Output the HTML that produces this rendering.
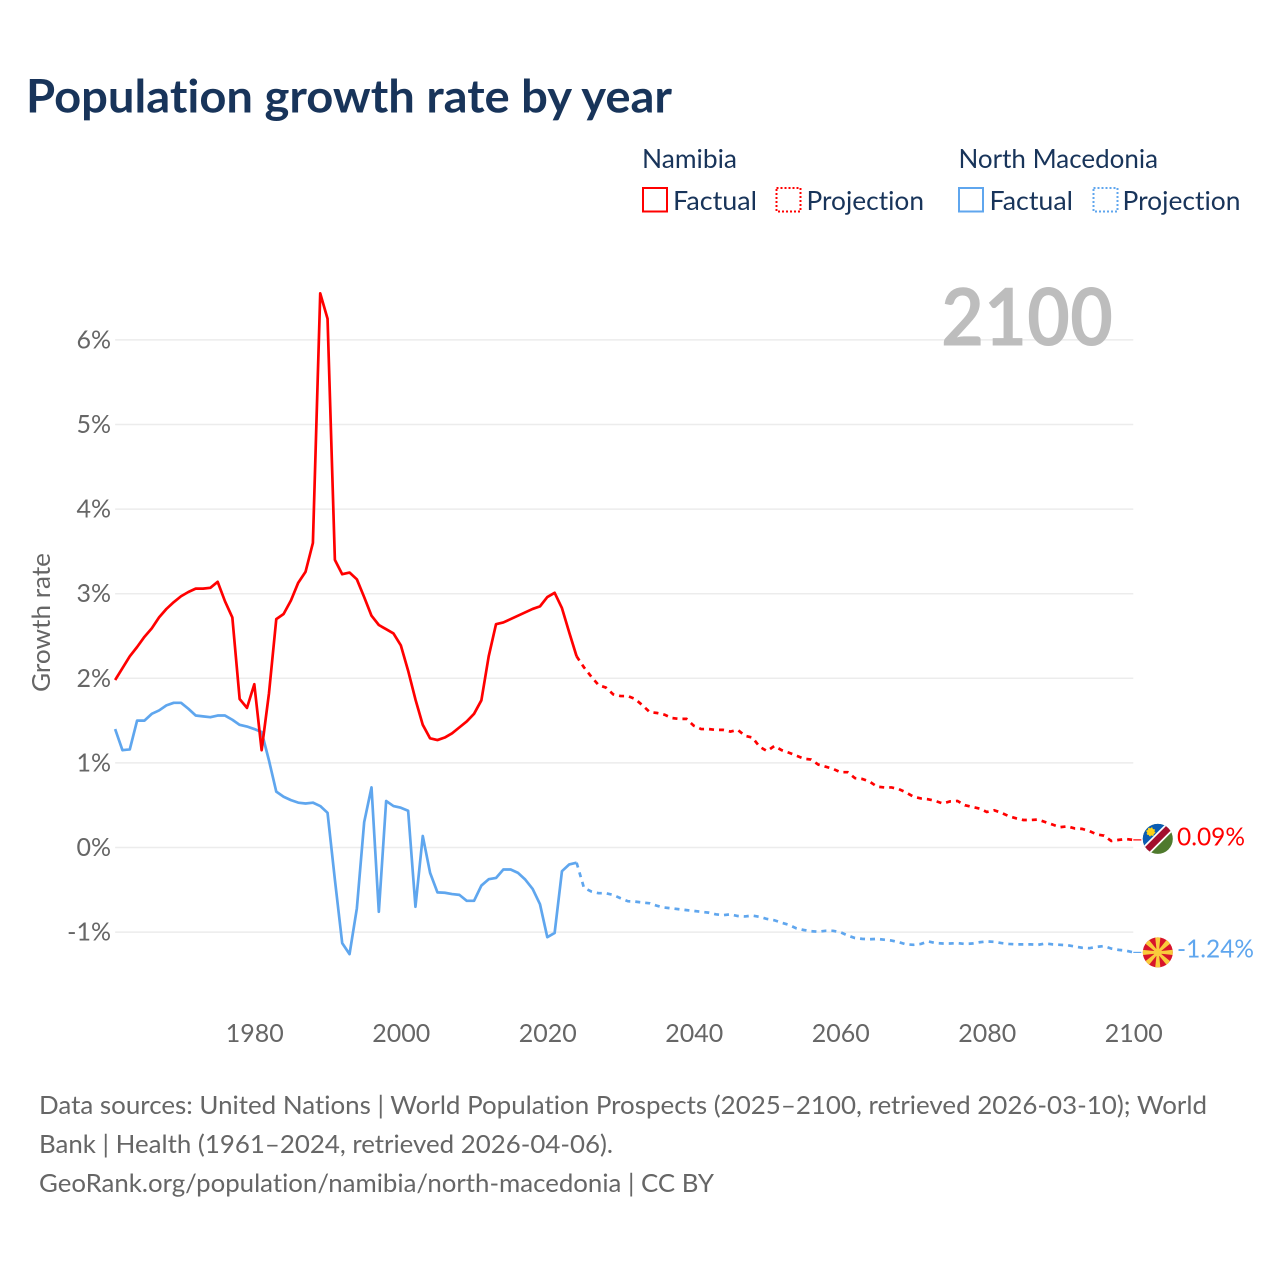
<!DOCTYPE html>
<html lang="en">
<head>
<meta charset="utf-8">
<title>Population growth rate by year</title>
<style>
html,body{margin:0;padding:0;background:#fff}
svg{display:block}
text{font-family:"Lato","Liberation Sans",sans-serif;font-variant-ligatures:none;font-feature-settings:"liga" 0,"clig" 0}
</style>
</head>
<body>
<svg id="chart" xmlns="http://www.w3.org/2000/svg" width="1280" height="1280" viewBox="0 0 1280 1280">
  <defs>
    <clipPath id="flag-clip"><circle cx="0" cy="0" r="15"></circle></clipPath>
  </defs>
  <rect x="0" y="0" width="1280" height="1280" fill="#fff"></rect>
  <text x="26" y="112.5" font-size="46" font-weight="700" fill="#18345a" textLength="646" lengthAdjust="spacingAndGlyphs">Population growth rate by year</text>

  <g font-size="26" fill="#18345a">
    <text x="642" y="168" textLength="95" lengthAdjust="spacingAndGlyphs">Namibia</text>
    <text x="958.5" y="168" textLength="199.5" lengthAdjust="spacingAndGlyphs">North Macedonia</text>
    <rect x="643" y="188" width="24" height="23.5" fill="none" stroke="#ff0000" stroke-width="2"></rect>
    <text x="673" y="210" textLength="84" lengthAdjust="spacingAndGlyphs">Factual</text>
    <rect x="776.5" y="188" width="24" height="23.5" fill="none" stroke="#ff0000" stroke-width="2" stroke-dasharray="2 2"></rect>
    <text x="806.5" y="210" textLength="117.5" lengthAdjust="spacingAndGlyphs">Projection</text>
    <rect x="959" y="188" width="24" height="23.5" fill="none" stroke="#5fa6ee" stroke-width="2"></rect>
    <text x="989.5" y="210" textLength="83.5" lengthAdjust="spacingAndGlyphs">Factual</text>
    <rect x="1093.5" y="188" width="24" height="23.5" fill="none" stroke="#5fa6ee" stroke-width="2" stroke-dasharray="2 2"></rect>
    <text x="1122.5" y="210" textLength="118" lengthAdjust="spacingAndGlyphs">Projection</text>
  </g>

  <g id="grid"></g>
  <text x="941" y="345.5" font-size="80" font-weight="700" fill="#bdbdbd" textLength="172" lengthAdjust="spacingAndGlyphs">2100</text>
  <g id="y-ticks" font-size="25" fill="#666"></g>
  <g id="x-ticks" font-size="25" fill="#666"></g>
  <text transform="translate(50,622.5) rotate(-90)" text-anchor="middle" font-size="25" fill="#666" textLength="139" lengthAdjust="spacingAndGlyphs">Growth rate</text>
  <g id="series"></g>
  <g id="end-markers"></g>

  <g font-size="25.5" fill="#666">
    <text x="39" y="1114" textLength="1168" lengthAdjust="spacingAndGlyphs">Data sources: United Nations | World Population Prospects (2025–2100, retrieved 2026-03-10); World</text>
    <text x="39" y="1153" textLength="574" lengthAdjust="spacingAndGlyphs">Bank | Health (1961–2024, retrieved 2026-04-06).</text>
    <text x="39" y="1192" textLength="675" lengthAdjust="spacingAndGlyphs">GeoRank.org/population/namibia/north-macedonia | CC BY</text>
  </g>
</svg>

<script>
// ---- chart data (percent per year) ----
const factualStartYear = 1961;
const projectionStartYear = 2025;
const xTickYears = [1980, 2000, 2020, 2040, 2060, 2080, 2100];
const yTickValues = [-1, 0, 1, 2, 3, 4, 5, 6];
const yTickLabels = ["-1%", "0%", "1%", "2%", "3%", "4%", "5%", "6%"];

const namibiaFactual = [
  1.98,2.12,2.26,2.37,2.49,2.59,2.72,2.82,2.90,2.97,
  3.02,3.06,3.06,3.07,3.14,2.91,2.72,1.755,1.65,1.93,
  1.15,1.82,2.70,2.76,2.92,3.13,3.26,3.60,6.55,6.25,
  3.40,3.23,3.25,3.17,2.96,2.74,2.63,2.58,2.53,2.39,
  2.09,1.75,1.45,1.29,1.27,1.30,1.35,1.42,1.49,1.58,
  1.74,2.26,2.64,2.66,2.70,2.74,2.78,2.82,2.85,2.96,
  3.01,2.83,2.54,2.26
];
const namibiaProjection = [
  2.13,2.02,1.92,1.89,1.81,1.79,1.79,1.755,1.68,1.60,
  1.59,1.57,1.53,1.52,1.52,1.44,1.40,1.40,1.39,1.39,
  1.37,1.39,1.32,1.30,1.19,1.14,1.20,1.15,1.12,1.085,
  1.05,1.04,0.98,0.955,0.93,0.89,0.89,0.82,0.81,0.78,
  0.72,0.71,0.71,0.69,0.65,0.60,0.58,0.57,0.55,0.52,
  0.545,0.55,0.50,0.48,0.46,0.42,0.44,0.41,0.37,0.345,
  0.325,0.325,0.33,0.30,0.27,0.24,0.25,0.225,0.22,0.195,
  0.155,0.14,0.077,0.09,0.10,0.09
];
const macedoniaFactual = [
  1.40,1.15,1.16,1.50,1.50,1.58,1.62,1.68,1.71,1.71,
  1.64,1.56,1.55,1.54,1.56,1.56,1.51,1.45,1.43,1.40,
  1.365,1.03,0.66,0.60,0.56,0.53,0.52,0.53,0.49,0.41,
  -0.38,-1.13,-1.26,-0.72,0.30,0.71,-0.76,0.55,0.49,0.47,
  0.435,-0.70,0.136,-0.30,-0.53,-0.535,-0.55,-0.56,-0.63,-0.63,
  -0.45,-0.375,-0.36,-0.26,-0.26,-0.30,-0.38,-0.49,-0.67,-1.06,
  -1.01,-0.28,-0.20,-0.18
];
const macedoniaProjection = [
  -0.475,-0.52,-0.54,-0.54,-0.56,-0.60,-0.635,-0.64,-0.65,-0.66,
  -0.69,-0.71,-0.72,-0.73,-0.74,-0.75,-0.76,-0.77,-0.79,-0.80,
  -0.79,-0.81,-0.815,-0.805,-0.82,-0.845,-0.86,-0.89,-0.915,-0.955,
  -0.975,-0.99,-0.995,-0.985,-0.985,-1.00,-1.04,-1.07,-1.08,-1.085,
  -1.08,-1.09,-1.10,-1.12,-1.145,-1.15,-1.14,-1.11,-1.13,-1.135,
  -1.135,-1.13,-1.14,-1.135,-1.12,-1.11,-1.115,-1.13,-1.14,-1.145,
  -1.145,-1.145,-1.15,-1.135,-1.145,-1.15,-1.155,-1.17,-1.185,-1.19,
  -1.175,-1.165,-1.195,-1.21,-1.22,-1.24
];
const namibiaEndLabel = "0.09%";
const macedoniaEndLabel = "-1.24%";

// ---- axis functions ----
const SVGNS = "http://www.w3.org/2000/svg";
function xScale(year) { return 254.3 + (year - 1980) * 7.325; }
function yScale(value) { return 847.5 - value * 84.6; }
function make(tag, attrs, parent, text) {
  const el = document.createElementNS(SVGNS, tag);
  for (const k in attrs) el.setAttribute(k, attrs[k]);
  if (text !== undefined) el.textContent = text;
  parent.appendChild(el);
  return el;
}
function linePath(startYear, values) {
  return values.map(function (v, i) {
    return (i ? "L" : "M") + xScale(startYear + i).toFixed(2) + " " + yScale(v).toFixed(2);
  }).join("");
}

// ---- gridlines and ticks ----
const gridGroup = document.getElementById("grid");
const yTickGroup = document.getElementById("y-ticks");
const xTickGroup = document.getElementById("x-ticks");
yTickValues.forEach(function (v, i) {
  const gridLine = make("line", {x1: xScale(factualStartYear), x2: xScale(2100) , y1: yScale(v), y2: yScale(v), stroke: "#ececec", "stroke-width": 1.5}, gridGroup);
  
  
  const yLabel = make("text", {x: 111, y: yScale(v) + 8.5, "text-anchor": "end"}, yTickGroup, yTickLabels[i]);
  
  
});
xTickYears.forEach(function (year) {
  const xLabel = make("text", {x: xScale(year) + 0.5, y: 1042, "text-anchor": "middle", textLength: 58, lengthAdjust: "spacingAndGlyphs"}, xTickGroup, String(year));
  
  
});

// ---- series ----
const seriesGroup = document.getElementById("series");
const RED = "#ff0000", BLUE = "#5fa6ee";
const lastFactualYear = projectionStartYear - 1;

const macedoniaSolid = make("path", {d: linePath(factualStartYear, macedoniaFactual), fill: "none", stroke: BLUE, "stroke-width": 2.7, "stroke-linejoin": "round"}, seriesGroup);



const macedoniaDashed = make("path", {d: linePath(lastFactualYear, macedoniaFactual.slice(-1).concat(macedoniaProjection)), fill: "none", stroke: BLUE, "stroke-width": 2.7, "stroke-dasharray": "5 5"}, seriesGroup);



const namibiaSolid = make("path", {d: linePath(factualStartYear, namibiaFactual), fill: "none", stroke: RED, "stroke-width": 2.7, "stroke-linejoin": "round"}, seriesGroup);



const namibiaDashed = make("path", {d: linePath(lastFactualYear, namibiaFactual.slice(-1).concat(namibiaProjection)), fill: "none", stroke: RED, "stroke-width": 2.7, "stroke-dasharray": "5 5"}, seriesGroup);



// ---- end markers: connector, flag, value label ----
const markerGroup = document.getElementById("end-markers");
const endX = xScale(2100);
const namibiaEndY = yScale(namibiaProjection[namibiaProjection.length - 1]);
const macedoniaEndY = yScale(macedoniaProjection[macedoniaProjection.length - 1]);

const namibiaConnector = make("line", {x1: endX, x2: endX + 8, y1: namibiaEndY, y2: namibiaEndY, stroke: RED, "stroke-width": 1.2}, markerGroup);



const macedoniaConnector = make("line", {x1: endX, x2: endX + 8, y1: macedoniaEndY, y2: macedoniaEndY, stroke: BLUE, "stroke-width": 1.2}, markerGroup);



// Namibia flag
const namibiaFlag = make("g", {transform: "translate(" + (endX + 24.5) + " " + (namibiaEndY - 1) + ")"}, markerGroup);


const nClip = make("g", {"clip-path": "url(#flag-clip)"}, namibiaFlag);
make("rect", {x: -16, y: -16, width: 32, height: 32, fill: "#4f7a2d"}, nClip);
make("polygon", {points: "-16,-16 16,-16 -16,16", fill: "#0a5cb4"}, nClip);
make("line", {x1: -16, y1: 16, x2: 16, y2: -16, stroke: "#fff", "stroke-width": 10}, nClip);
make("line", {x1: -16, y1: 16, x2: 16, y2: -16, stroke: "#a30f2d", "stroke-width": 6.5}, nClip);
make("circle", {cx: -7, cy: -7, r: 3.8, fill: "#fcd116", stroke: "#fcd116", "stroke-width": 1.5, "stroke-dasharray": "1.5 1.5"}, nClip);

// North Macedonia flag
const macedoniaFlag = make("g", {transform: "translate(" + (endX + 24.5) + " " + macedoniaEndY + ")"}, markerGroup);


const mClip = make("g", {"clip-path": "url(#flag-clip)"}, macedoniaFlag);
make("rect", {x: -16, y: -16, width: 32, height: 32, fill: "#d8142a"}, mClip);
[0, 45, 90, 135, 180, 225, 270, 315].forEach(function (angle) {
  make("polygon", {points: "-1,0 1,0 2.8,-17 -2.8,-17", fill: "#f9cb3c", transform: "rotate(" + angle + ")"}, mClip);
});
make("circle", {cx: 0, cy: 0, r: 3.9, fill: "#f9cb3c"}, mClip);

const namibiaValue = make("text", {x: 1177, y: namibiaEndY + 5.5, "font-size": 25, fill: RED, textLength: 68, lengthAdjust: "spacingAndGlyphs"}, markerGroup, namibiaEndLabel);



const macedoniaValue = make("text", {x: 1177, y: macedoniaEndY + 5, "font-size": 25, fill: BLUE, textLength: 77, lengthAdjust: "spacingAndGlyphs"}, markerGroup, macedoniaEndLabel);


</script>
</body>
</html>
